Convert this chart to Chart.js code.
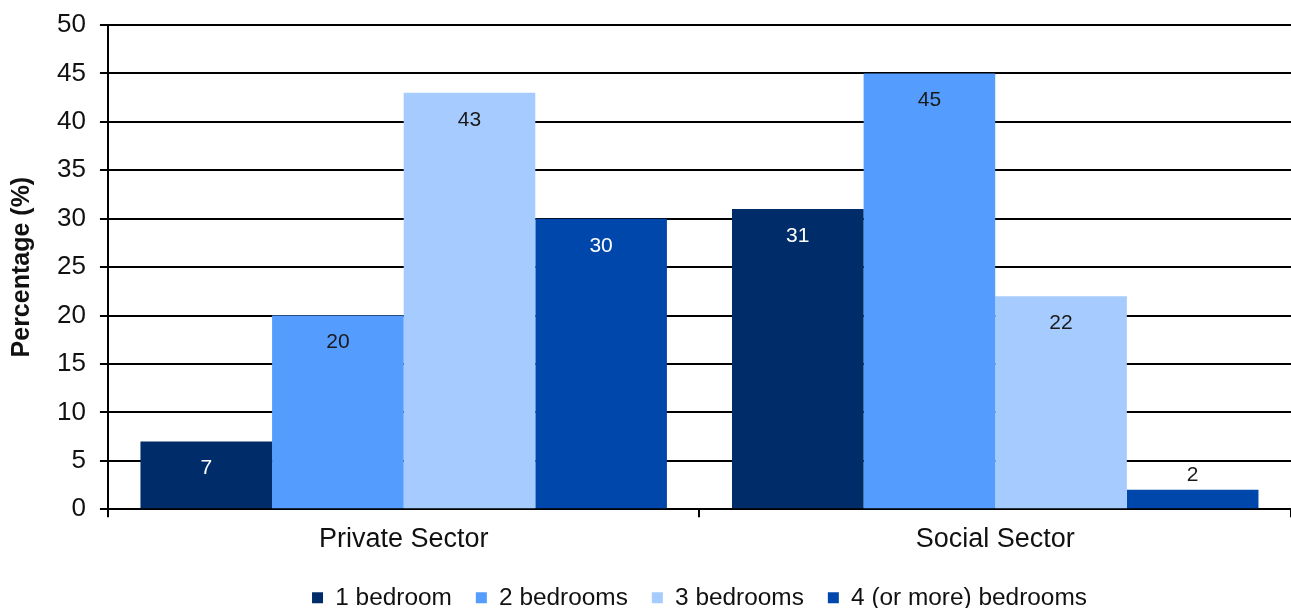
<!DOCTYPE html>
<html>
<head>
<meta charset="utf-8">
<script src="https://cdn.jsdelivr.net/npm/chart.js@4/dist/chart.umd.min.js"></script>
<style>
  html, body { margin: 0; padding: 0; background: #fff; }
  #wrap { width: 1291px; height: 608px; }
</style>
</head>
<body>
<div id="wrap"><canvas id="chart"></canvas></div>
<script>
const SECTORS = ["Private Sector", "Social Sector"];
const ONE_BED = [7, 31];
const TWO_BED = [20, 45];
const THREE_BED = [43, 22];
const FOUR_BED = [30, 2];
const SERIES = ["1 bedroom", "2 bedrooms", "3 bedrooms", "4 (or more) bedrooms"];
const COLORS = ["#002d6a", "#559cff", "#a6cbff", "#0047ab"];
const LABEL_COLORS = ["#ffffff", "#1a1a1a", "#1a1a1a", "#ffffff"];
const FONT = "'Liberation Sans', Arial, sans-serif";

// value labels: inside the top of each bar, above it when the bar is too short
const valueLabels = {
  id: "valueLabels",
  afterDatasetsDraw(chart) {
    const ctx = chart.ctx;
    ctx.save();
    ctx.font = "21px " + FONT;
    ctx.textAlign = "center";
    ctx.textBaseline = "middle";
    chart.data.datasets.forEach((ds, i) => {
      chart.getDatasetMeta(i).data.forEach((bar, j) => {
        const v = ds.data[j];
        const h = bar.base - bar.y;
        if (h > 40) {
          ctx.fillStyle = LABEL_COLORS[i];
          ctx.fillText(String(v), bar.x, bar.y + 27);
        } else {
          ctx.fillStyle = "#1a1a1a";
          ctx.fillText(String(v), bar.x, bar.y - 15);
        }
      });
    });
    ctx.restore();
  }
};

new Chart(document.getElementById("chart"), {
  type: "bar",
  data: {
    labels: SECTORS,
    datasets: [ONE_BED, TWO_BED, THREE_BED, FOUR_BED].map((d, i) => ({
      label: SERIES[i],
      data: d,
      backgroundColor: COLORS[i],
      borderWidth: 0,
      categoryPercentage: 0.89,
      barPercentage: 1,
    })),
  },
  options: {
    responsive: true,
    maintainAspectRatio: false,
    animation: false,
    layout: { padding: { top: 10, right: -9, left: 7, bottom: -12 } },
    plugins: {
      tooltip: { enabled: false },
      legend: {
        position: "bottom",
        fullSize: false,
        labels: {
          color: "#111",
          font: { family: FONT, size: 24.4 },
          boxWidth: 11,
          boxHeight: 11,
          padding: 24,
        },
      },
    },
    scales: {
      x: {
        grid: { display: true, drawOnChartArea: false, color: "#000", lineWidth: 2, tickLength: 8, offset: true },
        border: { color: "#000", width: 2 },
        ticks: { color: "#111", font: { family: FONT, size: 27 }, padding: 6 },
      },
      y: {
        min: 0,
        max: 50,
        ticks: { stepSize: 5, color: "#111", font: { family: FONT, size: 26, lineHeight: 0.85 }, padding: 14 },
        grid: { color: "#000", lineWidth: 2, tickLength: 8 },
        border: { color: "#000", width: 2 },
        title: {
          display: true,
          text: "Percentage (%)",
          color: "#111",
          font: { family: FONT, size: 25, weight: "bold" },
          padding: { top: 0, bottom: 6 },
        },
      },
    },
  },
  plugins: [valueLabels],
});
</script>
</body>
</html>
